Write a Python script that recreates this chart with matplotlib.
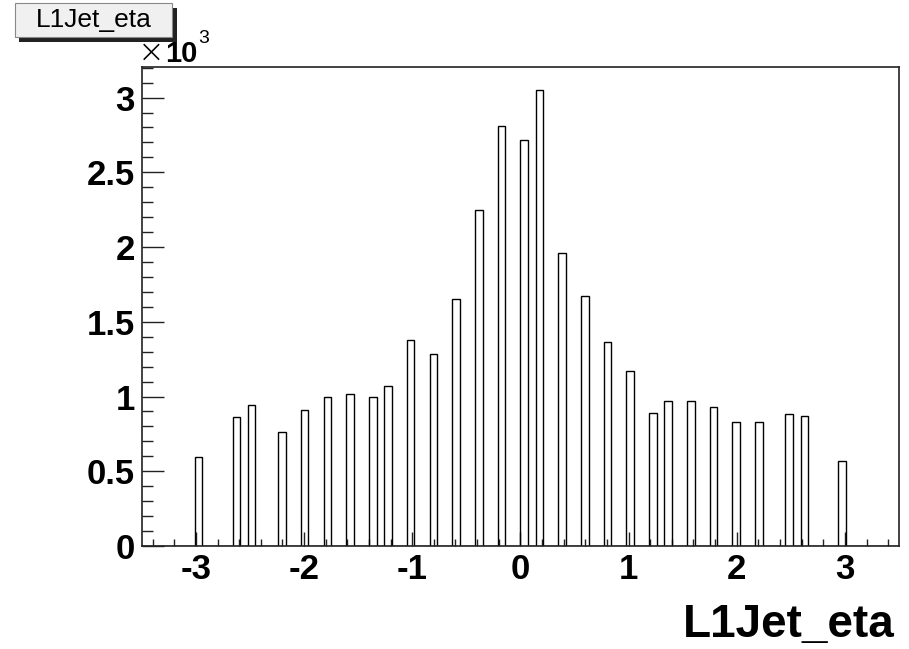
import numpy as np
import matplotlib
matplotlib.use('Agg')
import matplotlib.pyplot as plt
from matplotlib.ticker import MultipleLocator, FuncFormatter
from matplotlib.patches import Rectangle

# L1 jet eta values (bin centres) and entries
eta = [-2.975, -2.625, -2.485, -2.205, -1.995, -1.785, -1.575, -1.365, -1.225,
       -1.015, -0.805, -0.595, -0.385, -0.175, 0.035, 0.175, 0.385, 0.595,
       0.805, 1.015, 1.225, 1.365, 1.575, 1.785, 1.995, 2.205, 2.485, 2.625, 2.975]
counts = [594, 860, 943, 762, 909, 1000, 1020, 1000, 1072,
          1376, 1282, 1653, 2250, 2808, 2717, 3052, 1962, 1671,
          1367, 1173, 891, 972, 972, 927, 831, 831, 880, 867, 572]
nbins = 100
xmin, xmax = -3.5, 3.5
title = 'L1Jet_eta'

plt.rcParams['font.family'] = ['Liberation Sans', 'DejaVu Sans']

fig = plt.figure(figsize=(9.09, 6.49), dpi=100)
ax = fig.add_axes([0.156, 0.1587, 0.833, 0.7381])

edges = np.linspace(xmin, xmax, nbins + 1)
ax.hist(eta, bins=edges, weights=counts, histtype='step', color='black', lw=1.0)

ax.set_xlim(xmin, xmax)
ax.set_ylim(0, max(counts) * 1.05)

ax.xaxis.set_major_locator(MultipleLocator(1))
ax.xaxis.set_minor_locator(MultipleLocator(0.2))
ax.yaxis.set_major_locator(MultipleLocator(500))
ax.yaxis.set_minor_locator(MultipleLocator(100))
ax.yaxis.set_major_formatter(FuncFormatter(lambda v, p: '%g' % (v / 1000)))
ax.xaxis.set_major_formatter(FuncFormatter(lambda v, p: '%g' % v))

ax.tick_params(axis='both', which='both', direction='in', top=False, right=False,
               color='#222222', width=1)
ax.tick_params(axis='y', which='major', length=15.8, pad=5)
ax.tick_params(axis='y', which='minor', length=7.9)
ax.tick_params(axis='x', which='major', length=10, pad=5)
ax.tick_params(axis='x', which='minor', length=5)
for lab in ax.get_xticklabels() + ax.get_yticklabels():
    lab.set_fontsize(25)
    lab.set_fontweight('bold')
for s in ax.spines.values():
    s.set_linewidth(1.2)
    s.set_color('#222222')

# x10^3 multiplier
W, H = 909, 649
fig.text(138 / W, 1 - 62 / H, '\u00d7', fontsize=23, va='baseline', ha='left',
         fontweight='light', family=['DejaVu Sans'])
fig.text(165 / W, 1 - 62 / H, '10', fontsize=21, fontweight='bold',
         va='baseline', ha='left')
fig.text(198 / W, 1 - 43 / H, '3', fontsize=14, va='baseline', ha='left')

# axis title
fig.text(895 / W, 1 - 637 / H, title, fontsize=33, fontweight='bold',
         ha='right', va='baseline')

# title box with shadow
fig.patches.append(Rectangle((19 / W, 1 - 42 / H), 158 / W, 34 / H,
                             transform=fig.transFigure, facecolor='#222222',
                             edgecolor='none', zorder=1))
fig.patches.append(Rectangle((15 / W, 1 - 37 / H), 157 / W, 34 / H,
                             transform=fig.transFigure, facecolor='#f0f0f0',
                             edgecolor='#888888', lw=0.8, zorder=2))
fig.text(94 / W, 1 - 20 / H, title, fontsize=19, ha='center', va='center', zorder=3)

plt.savefig('out.png', dpi=100)
